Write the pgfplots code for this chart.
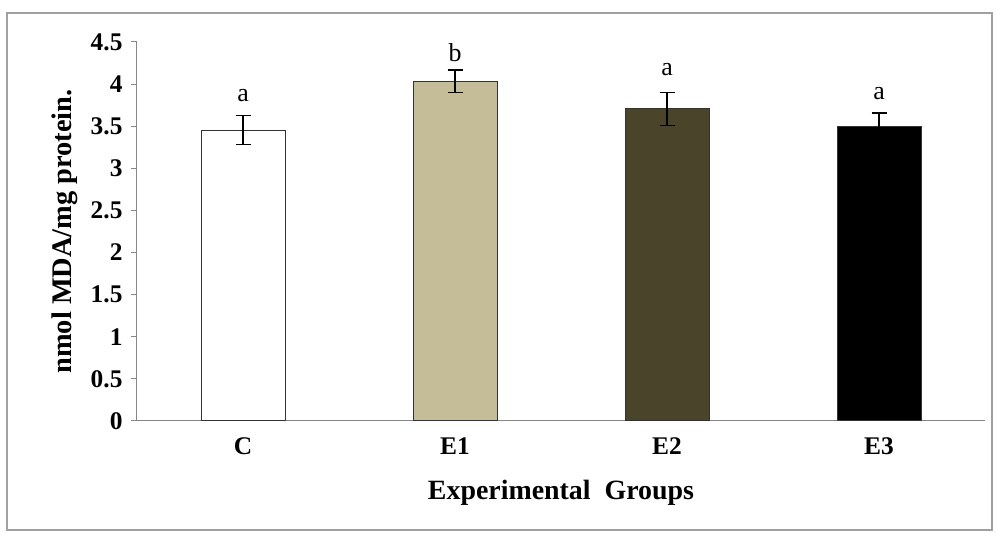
\documentclass[border=0pt]{standalone}
\usepackage{fontspec}
\setmainfont{Liberation Serif}
\usepackage{pgfplots}
\pgfplotsset{compat=1.18}
\definecolor{tanfill}{RGB}{196,189,151}
\definecolor{olivefill}{RGB}{74,69,42}
\definecolor{axgray}{RGB}{134,134,134}
\definecolor{framegray}{RGB}{160,160,160}
\begin{document}
\begin{tikzpicture}[x=1bp,y=1bp]
\useasboundingbox (-137,-115) rectangle (859,421);
\draw[draw=framegray, line width=1.2bp] (-130,-109) rectangle (855,408);
\begin{axis}[
  at={(0,0)}, anchor=south west,
  scale only axis, width=848bp, height=379bp,
  xmin=-0.5, xmax=3.5, ymin=0, ymax=4.5,
  axis lines*=left,
  axis line style={axgray, line width=1bp},
  ytick distance=0.5,
  xtick={0,1,2,3}, xticklabels={C,E1,E2,E3},
  xtick style={draw=none},
  ytick style={axgray, line width=1bp},
  tick align=outside, major tick length=6bp,
  /pgf/number format/.cd, fixed, precision=1, assume math mode=true,
  /pgfplots/.cd,
  ticklabel style={font=\fontsize{25.5}{27}\selectfont\bfseries},
  xticklabel style={anchor=center, text height=17bp, text depth=0bp, yshift=-19bp},
  yticklabel style={xshift=-5bp},
  every axis y label/.style={at={(axis description cs:0,0.5)}, xshift=-72bp, rotate=90, anchor=center},
  every axis x label/.style={at={(axis description cs:0.5,0)}, yshift=-72bp, anchor=center},
  ylabel={\fontsize{28.5}{30}\selectfont\bfseries nmol MDA/mg protein.},
  xlabel={\fontsize{28}{30}\selectfont\bfseries Experimental\ \ Groups},
  ybar, bar width=84bp, bar shift=0pt,
  clip=false,
  error bars/y dir=both, error bars/y explicit,
  error bars/error bar style={black, line width=1.5bp},
  error bars/error mark options={rotate=90, mark size=7.5bp, line width=1.5bp, black},
]
\addplot[fill=white, draw=black!80, line width=1bp] coordinates {(0,3.455) +- (0,0.17)};
\addplot[fill=tanfill, draw=black!80, line width=1bp] coordinates {(1,4.035) +- (0,0.135)};
\addplot[fill=olivefill, draw=black!80, line width=1bp] coordinates {(2,3.705) +- (0,0.195)};
\addplot[fill=black, draw=black!80, line width=1bp] coordinates {(3,3.50) +- (0,0.155)};
\node[font=\fontsize{26}{28}\selectfont] at (axis cs:0,3.87) {a};
\node[font=\fontsize{26}{28}\selectfont] at (axis cs:1,4.37) {b};
\node[font=\fontsize{26}{28}\selectfont] at (axis cs:2,4.17) {a};
\node[font=\fontsize{26}{28}\selectfont] at (axis cs:3,3.89) {a};
\end{axis}
\end{tikzpicture}
\end{document}
